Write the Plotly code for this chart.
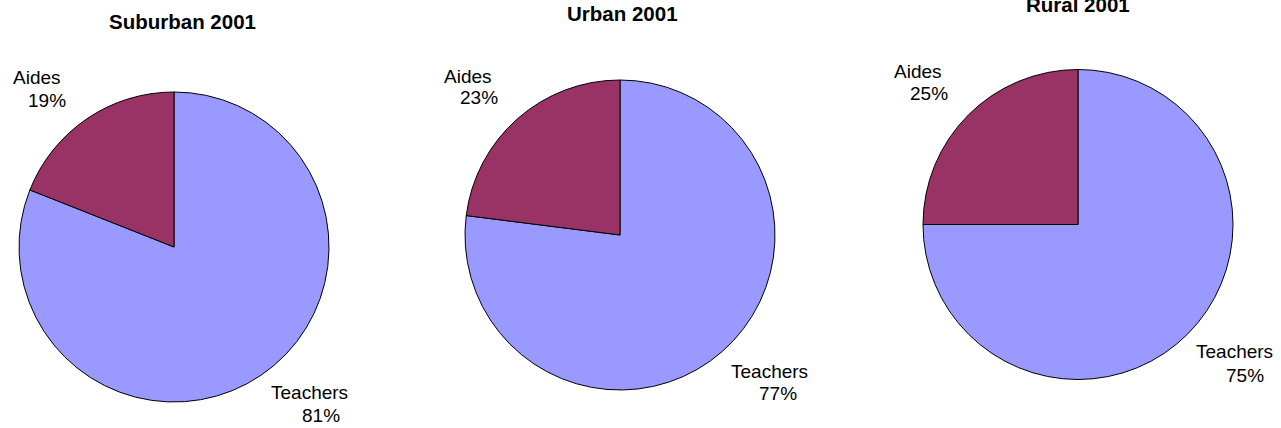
import plotly.graph_objects as go

# Staff composition by locale, 2001 (percent of staff)
regions = ["Suburban 2001", "Urban 2001", "Rural 2001"]
categories = ["Teachers", "Aides"]
teachers_pct = [81, 77, 75]
aides_pct = [19, 23, 25]

colors = ["#9999FF", "#993366"]

W, H = 1281, 428
R = 155  # pie radius in px

# pie centres (px), title positions, and label anchors (px)
centres = [(174, 247), (620, 235), (1078, 224.5)]
title_pos = [(182, 21.5), (622, 13), (1078, 4)]
aides_line1 = [(12, 78), (443, 76), (893, 71)]
aides_line2 = [(27, 100), (459, 98), (909, 93)]
teach_line1 = [(270, 392), (730, 371.5), (1195, 351.5)]
teach_line2 = [(301, 415), (758, 393.5), (1225, 375)]

FONT = "Liberation Sans, Arial, sans-serif"
LABEL_SIZE = 19
TITLE_SIZE = 20.5

fig = go.Figure()
annotations = []


def px_x(x):
    return x / W


def px_y(y):
    return 1 - y / H


for i, region in enumerate(regions):
    cx, cy = centres[i]
    vals = [teachers_pct[i], aides_pct[i]]
    fig.add_trace(go.Pie(
        labels=categories,
        values=vals,
        sort=False,
        direction="clockwise",
        rotation=0,
        marker=dict(colors=colors, line=dict(color="black", width=1)),
        textinfo="none",
        showlegend=False,
        domain=dict(x=[px_x(cx - R), px_x(cx + R)],
                    y=[px_y(cy + R), px_y(cy - R)]),
    ))

    tx, ty = title_pos[i]
    annotations.append(dict(
        text=f"<b>{region}</b>", x=px_x(tx), y=px_y(ty),
        xref="paper", yref="paper", xanchor="center", yanchor="middle",
        showarrow=False, font=dict(family=FONT, size=TITLE_SIZE, color="black"),
    ))

    for (lx, ly), txt in [
        (aides_line1[i], categories[1]),
        (aides_line2[i], f"{aides_pct[i]}%"),
        (teach_line1[i], categories[0]),
        (teach_line2[i], f"{teachers_pct[i]}%"),
    ]:
        annotations.append(dict(
            text=txt, x=px_x(lx), y=px_y(ly),
            xref="paper", yref="paper", xanchor="left", yanchor="middle",
            showarrow=False, font=dict(family=FONT, size=LABEL_SIZE, color="black"),
            xshift=-1,
        ))

fig.update_layout(
    width=W, height=H,
    margin=dict(l=0, r=0, t=0, b=0),
    paper_bgcolor="white",
    plot_bgcolor="white",
    annotations=annotations,
)

fig.write_html("out.html")
